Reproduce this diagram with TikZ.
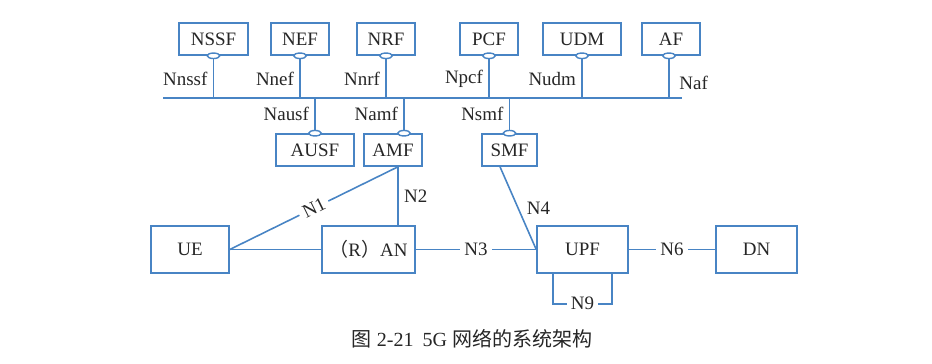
\documentclass[tikz,border=0pt]{standalone}
\usepackage{fontspec}
\setmainfont{Liberation Serif}
\newfontfamily\cjk{Noto Sans CJK SC}
\usetikzlibrary{positioning}
\usetikzlibrary{calc}
\usetikzlibrary{shapes.geometric}
\definecolor{netblue}{RGB}{72,132,196}
\definecolor{inkgray}{RGB}{38,38,38}

\begin{document}
\begin{tikzpicture}[
    x=0.02cm, y=-0.02cm,
    % node styles
    nf/.style = {
      draw=netblue,
      line width=0.9pt,
      minimum width=1.16cm,
      minimum height=0.64cm,
      inner sep=0pt,
      text=inkgray,
      font=\fontsize{10.8}{12}\selectfont
    },
    bignf/.style = {nf, minimum height=0.94cm},
    port/.style = {
      ellipse,
      draw=netblue,
      fill=white,
      line width=0.8pt,
      minimum width=0.25cm,
      minimum height=0.11cm,
      inner sep=0pt
    },
    lbl/.style = {text=inkgray, inner sep=3pt, font=\fontsize{10.8}{12}\selectfont},
    tag/.style = {lbl, fill=white, inner sep=2.5pt},
    % line styles
    link/.style = {draw=netblue, line width=0.9pt}
  ]
  \useasboundingbox (0,0) rectangle (932,364);

  % --- Nodes (service based part)
  \node[nf, minimum width=1.38cm] (nssf) at (213.5,39) {NSSF};
  \node[nf] (nef) at (300,39) {NEF};
  \node[nf] (nrf) at (386,39) {NRF};
  \node[nf] (pcf) at (489,39) {PCF};
  \node[nf, minimum width=1.56cm] (udm) at (582,39) {UDM};
  \node[nf] (af) at (671,39) {AF};

  \node[nf, minimum width=1.56cm] (ausf) at (315,150) {AUSF};
  \node[nf] (amf) at (393,150) {AMF};
  \node[nf, minimum width=1.1cm] (smf) at (509.5,150) {SMF};

  % --- Nodes (user plane)
  \node[bignf, minimum width=1.56cm] (ue) at (190,249.5) {UE};
  \node[bignf, minimum width=1.86cm] (ran) at (368.5,249.5) {{\cjk （}R{\cjk ）}AN};
  \node[bignf, minimum width=1.82cm] (upf) at (582.5,249.5) {UPF};
  \node[bignf, minimum width=1.62cm] (dn) at (756.5,249.5) {DN};

  % --- Bus
  \coordinate (bus-w) at (163,98);
  \coordinate (bus-e) at (682,98);
  \draw[link] (bus-w) -- (bus-e);

  % --- Service interfaces
  \node[port] (nssf-p) at (nssf.south) {};
  \node[port] (nef-p) at (nef.south) {};
  \node[port] (nrf-p) at (nrf.south) {};
  \node[port] (pcf-p) at (pcf.south) {};
  \node[port] (udm-p) at (udm.south) {};
  \node[port] (af-p) at ($(af.south)+(-2,0)$) {};
  \node[port] (ausf-p) at (ausf.north) {};
  \node[port] (amf-p) at ($(amf.north)+(11,0)$) {};
  \node[port] (smf-p) at (smf.north) {};

  \draw[link] (nssf-p) -- node[lbl, left] {Nnssf} (nssf-p |- bus-w);
  \draw[link] (nef-p) -- node[lbl, left] {Nnef} (nef-p |- bus-w);
  \draw[link] (nrf-p) -- node[lbl, left] {Nnrf} (nrf-p |- bus-w);
  \draw[link] (pcf-p) -- node[lbl, left] {Npcf} (pcf-p |- bus-w);
  \draw[link] (udm-p) -- node[lbl, left] {Nudm} (udm-p |- bus-w);
  \draw[link] (af-p) -- node[lbl, right=2.5pt, pos=0.6] {Naf} (af-p |- bus-w);
  \draw[link] (ausf-p) -- node[lbl, left] {Nausf} (ausf-p |- bus-w);
  \draw[link] (amf-p) -- node[lbl, left] {Namf} (amf-p |- bus-w);
  \draw[link] (smf-p) -- node[lbl, left] {Nsmf} (smf-p |- bus-w);

  % --- Reference points
  \coordinate (amf-s) at ($(amf.south)+(5,0)$);
  \coordinate (smf-s) at ($(smf.south)+(-9.5,0)$);
  \draw[link] (amf-s) -- node[lbl, right] {N2} (amf-s |- ran.north);
  \draw[link] (amf-s) -- node[tag, sloped] {N1} (ue.east);
  \draw[link] (ue) -- (ran);
  \draw[link] (ran) -- node[tag] {N3} (upf);
  \draw[link] (smf-s) -- node[lbl, right=1.5pt] {N4} (upf.west);
  \draw[link] (upf) -- node[tag] {N6} (dn);
  \coordinate (upf-l) at ($(upf.south)+(-29.5,0)$);
  \coordinate (upf-r) at ($(upf.south)+(29.5,0)$);
  \draw[link] (upf-l) -- ++(0,30) -| node[tag, pos=0.25] {N9} (upf-r);

  % --- Caption
  \node[text=inkgray, font=\fontsize{11.4}{13}\selectfont] (caption) at (472,339)
    {{\cjk 图} 2-21\hspace{0.45em}5G {\cjk 网络的系统架构}};

\end{tikzpicture}
\end{document}
